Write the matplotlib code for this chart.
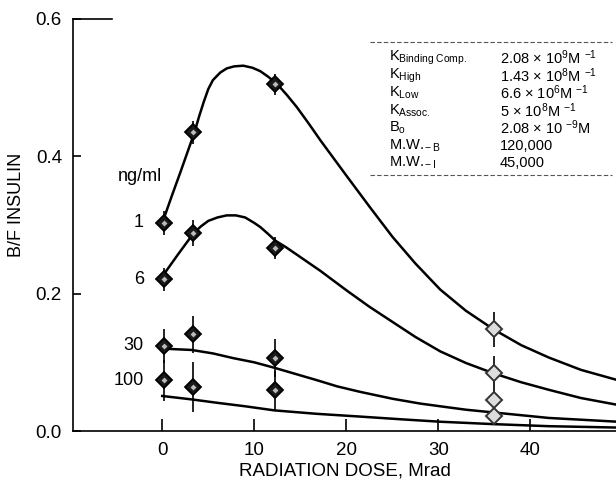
import matplotlib
matplotlib.use("Agg")
import matplotlib.pyplot as plt
from matplotlib.lines import Line2D

plt.rcParams['font.family'] = ['Liberation Sans', 'DejaVu Sans']
plt.rcParams['mathtext.fontset'] = 'custom'
plt.rcParams['mathtext.rm'] = 'Liberation Sans'
plt.rcParams['mathtext.it'] = 'Liberation Sans'

# ---- data ----
dose = [0.2, 3.3, 12.3, 36]
conc_labels = ["1", "6", "30", "100"]
bf_1 = [0.303, 0.435, 0.505, 0.148]
bf_6 = [0.221, 0.288, 0.266, 0.084]
bf_30 = [0.124, 0.141, 0.106, 0.045]
bf_100 = [0.074, 0.064, 0.059, 0.022]
err_1 = [0.017, 0.017, 0.015, 0.025]
err_6 = [0.017, 0.019, 0.016, 0.025]
err_30 = [0.025, 0.027, 0.028, 0.015]
err_100 = [0.030, 0.037, 0.028, 0.010]

fit1_x = [0, 1, 2, 3.5, 4.0, 4.5, 5.0, 5.5, 6.3, 7.0, 7.8, 8.8, 9.8, 10.65, 11.5, 12.5, 13.5,
          14.6, 15.9, 17.2, 20, 22.5, 25, 27.5, 30.2, 33, 36, 39, 42, 45.5, 49.5]
fit1_y = [0.303, 0.341, 0.378, 0.435, 0.458, 0.479, 0.498, 0.511, 0.522, 0.528, 0.531, 0.532, 0.529,
          0.524, 0.516, 0.505, 0.490, 0.472, 0.448, 0.423, 0.372, 0.327, 0.283, 0.244, 0.206,
          0.175, 0.148, 0.125, 0.107, 0.089, 0.074]
fit6_x = [0, 1.7, 3.4, 4.2, 5.0, 6.0, 7.0, 8.0, 9.0, 10.0, 10.65, 11.5, 12.3, 13.4, 14.6, 15.9,
          17.2, 20, 22.5, 25, 27.5, 30.2, 33, 36, 39, 42, 45.5, 49.5]
fit6_y = [0.225, 0.257, 0.288, 0.298, 0.306, 0.311, 0.314, 0.314, 0.311, 0.303, 0.297, 0.287,
          0.277, 0.268, 0.257, 0.245, 0.233, 0.205, 0.181, 0.159, 0.137, 0.116, 0.099, 0.084,
          0.071, 0.060, 0.048, 0.038]
fit30_x = [0, 3.2, 5.5, 7.75, 10, 12.2, 14.5, 16.8, 19, 21.5, 25, 28, 30.2, 33, 36, 42, 49.5]
fit30_y = [0.120, 0.118, 0.113, 0.106, 0.100, 0.092, 0.083, 0.074, 0.065, 0.057, 0.047, 0.040,
           0.036, 0.031, 0.027, 0.019, 0.0135]
fit100_x = [0, 3.2, 6, 9, 12.2, 16.8, 21.5, 26, 30.2, 36, 42, 49.5]
fit100_y = [0.051, 0.046, 0.041, 0.036, 0.030, 0.025, 0.021, 0.017, 0.0135, 0.010, 0.007, 0.005]

x_ticks = [0, 10, 20, 30, 40]
y_ticks = [0.0, 0.2, 0.4, 0.6]

table_names = [r"K$_{\rm Binding\ Comp.}$", r"K$_{\rm High}$", r"K$_{\rm Low}$",
               r"K$_{\rm Assoc.}$", r"B$_{\rm o}$", r"M.W.$_{\rm -B}$", r"M.W.$_{\rm -I}$"]
table_values = [r"2.08 $\times$ 10$^{9}$M $^{-1}$", r"1.43 $\times$ 10$^{8}$M $^{-1}$",
                r"6.6 $\times$ 10$^{6}$M $^{-1}$", r"5 $\times$ 10$^{8}$M $^{-1}$",
                r"2.08 $\times$ 10 $^{-9}$M", "120,000", "45,000"]

# ---- figure ----
fig = plt.figure(figsize=(6.16, 4.83), dpi=100)
ax = fig.add_axes([73/616, 52/483, 1 - 73/616, 412/483])
ax.set_xlim(-9.7, 49.3)
ax.set_ylim(0.0, 0.6)

for fx, fy in [(fit1_x, fit1_y), (fit6_x, fit6_y), (fit30_x, fit30_y), (fit100_x, fit100_y)]:
    ax.plot(fx, fy, color='black', lw=1.8, zorder=2, solid_joinstyle='round')

series = [bf_1, bf_6, bf_30, bf_100]
errs = [err_1, err_6, err_30, err_100]
for ys, es in zip(series, errs):
    ax.errorbar(dose, ys, yerr=es, fmt='none', ecolor='black', elinewidth=1.2, capsize=0, zorder=3)
    ax.plot(dose[:3], ys[:3], linestyle='none', marker='D', ms=8, mfc='#1a1a1a', mec='black', mew=1.3, zorder=4)
    ax.plot(dose[:3], ys[:3], linestyle='none', marker='D', ms=3, mfc='#bbbbbb', mec='none', zorder=5)
    ax.plot(dose[3:], ys[3:], linestyle='none', marker='D', ms=8, mfc='#dddddd', mec='#333333', mew=1.4, zorder=4)

# concentration labels
for lab, ys in zip(conc_labels, series):
    ax.text(-2.0, ys[0], lab, ha='right', va='center', fontsize=13)
ax.text(-2.4, 0.37, "ng/ml", ha='center', va='center', fontsize=13)

# spines and ticks
ax.spines['right'].set_visible(False)
ax.spines['top'].set_visible(False)
ax.spines['left'].set_linewidth(1.2)
ax.spines['bottom'].set_linewidth(1.2)
ax.set_xticks(x_ticks)
ax.set_yticks(y_ticks)
ax.set_yticklabels([f"{v:.1f}" for v in y_ticks])
ax.tick_params(axis='x', direction='in', length=9, width=1.2, labelsize=13.5, pad=8)
ax.tick_params(axis='y', direction='in', length=6, width=1.2, labelsize=13.5, pad=8)
ax.set_xlabel("RADIATION DOSE, Mrad", fontsize=13.5, va='center')
ax.set_ylabel("B/F INSULIN", fontsize=13)
ax.yaxis.set_label_coords(-0.088, 0.55)
ax.xaxis.set_label_coords(0.5, -0.097)

# short top segment at 0.6
ax.plot([-9.7, -5.5], [0.6, 0.6], color='black', lw=1.2, clip_on=False)

# parameter table
def to_fig(xp, yp):
    return (xp/616, 1 - yp/483)

row_y = [58, 75.5, 93, 110.5, 128, 145.5, 163]
for name, val, ry in zip(table_names, table_values, row_y):
    fig.text(*to_fig(389, ry), name, ha='left', va='center', fontsize=10.5)
    fig.text(*to_fig(500, ry), val, ha='left', va='center', fontsize=10.5)
for ly in [42, 175]:
    fig.add_artist(Line2D([370/616, 612/616], [1 - ly/483, 1 - ly/483], color='#555555', lw=0.8,
                          linestyle=(0, (4, 2))))

fig.savefig("out.png", dpi=100)
